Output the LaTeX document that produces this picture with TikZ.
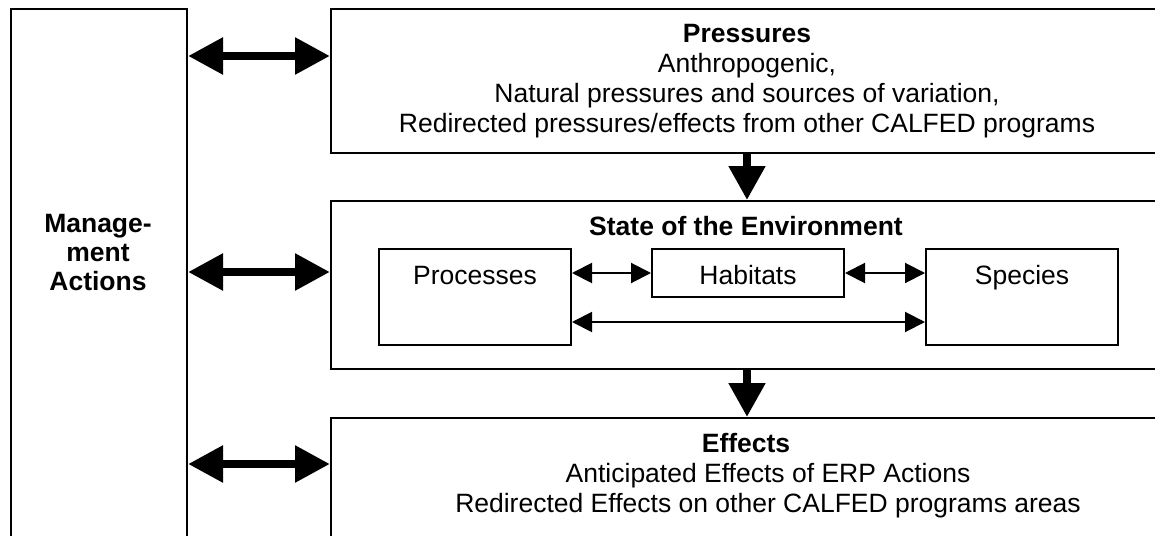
\documentclass[tikz,border=0pt]{standalone}
\usepackage{fontspec}
\setmainfont{Liberation Sans}
\usetikzlibrary{positioning,arrows.meta}

\begin{document}
\begin{tikzpicture}[
    x=1pt, y=-1pt,
    frame/.style={draw, line width=2pt, inner sep=0pt},
    txt/.style={font=\fontsize{26.5}{30}\selectfont, align=center, inner sep=0pt},
    head/.style={txt, font=\fontsize{26.5}{30}\selectfont\bfseries},
    inbox/.style={frame, txt, minimum width=192pt, inner ysep=7pt, text height=28pt, text depth=6pt},
    tallbox/.style={inbox, text depth=54pt},
    bigarr/.style={{Triangle[length=35pt,width=35pt]}-{Triangle[length=35pt,width=35pt]}, line width=8.5pt},
    downarr/.style={-{Triangle[length=34pt,width=35pt]}, line width=8pt},
    smallarr/.style={{Triangle[length=20pt,width=20pt]}-{Triangle[length=20pt,width=20pt]}, line width=2pt},
]
\useasboundingbox (0,0) rectangle (1155,535);

% Left column
\node[frame, anchor=north west, minimum width=176pt, minimum height=560pt] (mgmt) at (10,8) {};
\node[head, font=\fontsize{26.5}{29}\selectfont\bfseries, anchor=base] (mgmttext) at (98,290) {Manage-\\ment\\Actions};

% Right column: outer boxes
\node[frame, txt, anchor=north west, minimum width=832pt, minimum height=144pt] (pressures) at (330,8)
    {\textbf{Pressures}\\Anthropogenic,\\Natural pressures and sources of variation,\\Redirected pressures/effects from other CALFED programs};
\node[frame, anchor=north west, minimum width=832pt, minimum height=168pt] (state) at (330,200) {};
\node[frame, anchor=north west, minimum width=832pt, minimum height=200pt] (effects) at (330,417) {};

% Titles
\node[head, anchor=base] (statetitle) at (746,235) {State of the Environment};
\node[head, anchor=base] (efftitle) at (746,452) {Effects};
\node[txt, anchor=base] (effbody) at (768,512) {Anticipated Effects of ERP Actions\\Redirected Effects on other CALFED programs areas};

% Inner boxes
\node[tallbox, anchor=north west] (processes) at (378,248) {Processes};
\node[inbox, anchor=north west] (habitats) at ([xshift=79pt]processes.north east) {Habitats};
\node[tallbox, anchor=north west] (species) at ([xshift=80pt]habitats.north east) {Species};

% Arrow heights on the left
\coordinate (pin) at ([yshift=-48pt]pressures.north west);
\coordinate (sin) at ([yshift=-72pt]state.north west);
\coordinate (ein) at ([yshift=-47pt]effects.north west);

% Management arrows
\draw[bigarr] (mgmt.east |- pin) -- (pin);
\draw[bigarr] (mgmt.east |- sin) -- (sin);
\draw[bigarr] (mgmt.east |- ein) -- (ein);

% Flow down
\draw[downarr] (pressures.south) -- (state.north);
\draw[downarr] (state.south) -- (effects.north);

% Inside the state box
\draw[smallarr] (habitats.west -| processes.east) -- (habitats.west);
\draw[smallarr] (habitats.east) -- (habitats.east -| species.west);
\draw[smallarr] ([yshift=-25pt]processes.east) -- ([yshift=-25pt]species.west);

\end{tikzpicture}
\end{document}
